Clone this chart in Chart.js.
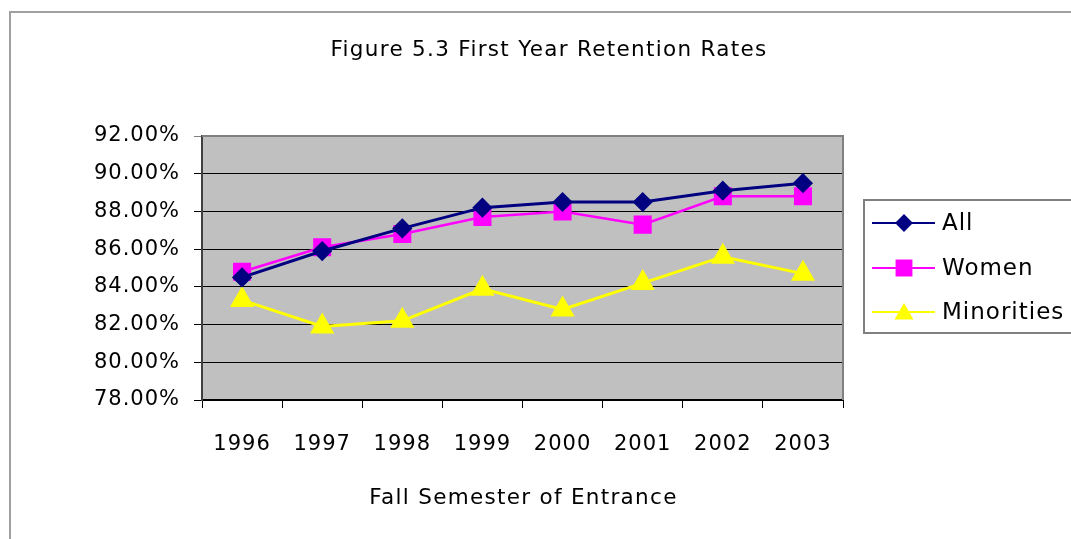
<!DOCTYPE html>
<html>
<head>
<meta charset="utf-8">
<script src="https://cdn.jsdelivr.net/npm/chart.js@4.4.0/dist/chart.umd.min.js"></script>
<style>
  html, body { margin: 0; padding: 0; background: #fff; overflow: hidden; }
  #wrap { width: 1100px; height: 539px; }
</style>
</head>
<body>
<div id="wrap"><canvas id="mycanvas" width="1100" height="539"></canvas></div>
<script>
// data
var years = ['1996', '1997', '1998', '1999', '2000', '2001', '2002', '2003'];
var allRates = [84.5, 85.9, 87.1, 88.2, 88.5, 88.5, 89.1, 89.5];
var womenRates = [84.8, 86.1, 86.8, 87.7, 88.0, 87.3, 88.8, 88.8];
var minorityRates = [83.3, 81.9, 82.2, 83.9, 82.8, 84.2, 85.6, 84.7];
var yTicks = [78, 80, 82, 84, 86, 88, 90, 92];
var chartTitle = 'Figure 5.3 First Year Retention Rates';
var xTitle = 'Fall Semester of Entrance';

var FONT = 'DejaVu Sans';

// grey plot area, outer frame, titles and the legend box
var excelLook = {
	id: 'excelLook',
	beforeDraw: function(chart){
		var c = chart.ctx, a = chart.chartArea;
		c.fillStyle = '#c0c0c0';
		c.fillRect(a.left, a.top, a.right - a.left, a.bottom - a.top);
		c.strokeStyle = '#a0a0a0';
		c.lineWidth = 2;
		c.strokeRect(10, 12, 1120, 600);
		// wider text like the original, for the tick labels
		c.letterSpacing = '1px';
	},
	beforeDatasetsDraw: function(chart){
		var c = chart.ctx, a = chart.chartArea;
		c.save();
		c.strokeStyle = '#808080';
		c.lineWidth = 2;
		c.beginPath();
		c.moveTo(a.left, a.top);
		c.lineTo(a.right, a.top);
		c.lineTo(a.right, a.bottom);
		c.stroke();
		c.restore();
	},
	afterDraw: function(chart){
		var c = chart.ctx, a = chart.chartArea;
		c.save();
		c.fillStyle = '#000';
		c.letterSpacing = '1.3px';
		c.font = '21.5px "' + FONT + '"';
		c.textAlign = 'center';
		c.textBaseline = 'middle';
		c.fillText(chartTitle, 549, 50);
		c.fillText(xTitle, (a.left + a.right) / 2 + 1, 498);

		// legend
		c.letterSpacing = '1px';
		c.strokeStyle = '#808080';
		c.lineWidth = 2;
		c.strokeRect(864, 200, 260, 133);
		var rows = [223, 268, 312];
		var sizes = [7.5, 10.5, 9];
		chart.data.datasets.forEach(function(ds, i){
			var y = rows[i];
			c.strokeStyle = ds.borderColor;
			c.lineWidth = 2;
			c.beginPath();
			c.moveTo(872, y);
			c.lineTo(935, y);
			c.stroke();
			c.fillStyle = ds.pointBackgroundColor;
			c.strokeStyle = ds.pointBorderColor;
			Chart.helpers.drawPoint(c, {pointStyle: ds.pointStyle, radius: sizes[i], rotation: 0, borderWidth: 1}, 904, y + (i === 2 ? 2 : 0));
			c.fillStyle = '#000';
			c.font = '23px "' + FONT + '"';
			c.textAlign = 'left';
			c.fillText(ds.label, 942, y + 1);
		});
		c.restore();
	}
};

var chartdata = {
	labels: years,
	datasets: [
		{
			label: 'All',
			data: allRates,
			borderColor: '#000080',
			borderWidth: 3,
			pointStyle: 'rectRot',
			pointRadius: 8,
			pointBackgroundColor: '#000080',
			pointBorderColor: '#000080',
			tension: 0
		},
		{
			label: 'Women',
			data: womenRates,
			borderColor: '#ff00ff',
			borderWidth: 2.5,
			pointStyle: 'rect',
			pointRadius: 11,
			pointBackgroundColor: '#ff00ff',
			pointBorderColor: '#ff00ff',
			tension: 0
		},
		{
			label: 'Minorities',
			data: minorityRates,
			borderColor: '#ffff00',
			borderWidth: 3,
			pointStyle: 'triangle',
			pointRadius: 11,
			pointBackgroundColor: '#ffff00',
			pointBorderColor: '#ffff00',
			tension: 0
		}
	]
};

var ctx = document.getElementById('mycanvas');

var lineGraph = new Chart(ctx, {
	type: 'line',
	data: chartdata,
	plugins: [excelLook],
	options: {
		responsive: false,
		animation: false,
		layout: { padding: { top: 136, right: 257, left: 0, bottom: 0 } },
		plugins: {
			legend: { display: false },
			title: { display: false },
			tooltip: { enabled: false }
		},
		scales: {
			x: {
				offset: true,
				afterFit: function(s){ s.height = 139; },
				grid: {
					offset: true,
					drawOnChartArea: false,
					drawTicks: true,
					tickLength: 8,
					color: '#000'
				},
				border: { color: '#000', width: 2 },
				ticks: {
					color: '#000',
					font: { family: FONT, size: 21 },
					padding: 24,
					maxRotation: 0
				}
			},
			y: {
				min: 78,
				max: 92,
				afterFit: function(s){ s.width = 202; },
				afterBuildTicks: function(s){
					s.ticks = yTicks.map(function(v){ return { value: v }; });
				},
				grid: {
					color: function(c){ return c.tick && c.tick.value === 92 ? '#808080' : '#000'; },
					lineWidth: 1,
					tickLength: 8
				},
				border: { color: '#404040', width: 2 },
				ticks: {
					color: '#000',
					font: { family: FONT, size: 21 },
					padding: 14,
					callback: function(v){ return v.toFixed(2) + '%'; }
				}
			}
		}
	}
});
</script>
</body>
</html>
